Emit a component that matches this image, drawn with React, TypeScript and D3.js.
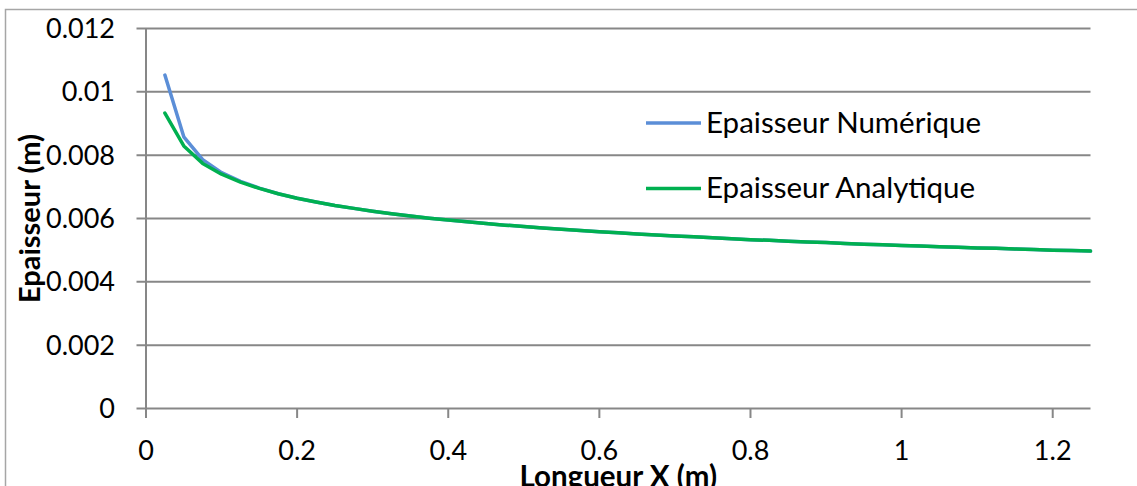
import React, { useEffect, useRef } from 'react';
import * as d3 from 'd3';

const xValues = [
  0.025, 0.05, 0.075, 0.1, 0.125, 0.15, 0.175, 0.2, 0.225, 0.25,
  0.275, 0.3, 0.325, 0.35, 0.375, 0.4, 0.425, 0.45, 0.475, 0.5,
  0.525, 0.55, 0.575, 0.6, 0.625, 0.65, 0.675, 0.7, 0.725, 0.75,
  0.775, 0.8, 0.825, 0.85, 0.875, 0.9, 0.925, 0.95, 0.975, 1.0,
  1.025, 1.05, 1.075, 1.1, 1.125, 1.15, 1.175, 1.2, 1.225, 1.25,
];

const numerique = [
  0.01053, 0.00858, 0.00786, 0.00745, 0.00717, 0.00696, 0.00678, 0.00664, 0.00652, 0.00641,
  0.00632, 0.00623, 0.00615, 0.00608, 0.00601, 0.00595, 0.0059, 0.00584, 0.00579, 0.00575,
  0.0057, 0.00566, 0.00562, 0.00558, 0.00555, 0.00551, 0.00548, 0.00545, 0.00542, 0.00539,
  0.00536, 0.00533, 0.00531, 0.00528, 0.00526, 0.00524, 0.00521, 0.00519, 0.00517, 0.00515,
  0.00513, 0.00511, 0.00509, 0.00507, 0.00506, 0.00504, 0.00502, 0.005, 0.00499, 0.00497,
];

const analytique = [
  0.00933, 0.00829, 0.00774, 0.0074, 0.00715, 0.00695, 0.00678, 0.00664, 0.00652, 0.00641,
  0.00632, 0.00623, 0.00615, 0.00608, 0.00601, 0.00595, 0.0059, 0.00584, 0.00579, 0.00575,
  0.0057, 0.00566, 0.00562, 0.00558, 0.00555, 0.00551, 0.00548, 0.00545, 0.00542, 0.00539,
  0.00536, 0.00533, 0.00531, 0.00528, 0.00526, 0.00524, 0.00521, 0.00519, 0.00517, 0.00515,
  0.00513, 0.00511, 0.00509, 0.00507, 0.00506, 0.00504, 0.00502, 0.005, 0.00499, 0.00497,
];

const xTicks = [0, 0.2, 0.4, 0.6, 0.8, 1, 1.2];
const yTicks = [0, 0.002, 0.004, 0.006, 0.008, 0.01, 0.012];

const seriesNames = ['Epaisseur Numérique', 'Epaisseur Analytique'];
const seriesColors = ['#5B8ED7', '#00B050'];

const width = 1137;
const height = 486;
const plot = { left: 146, right: 1090.5, top: 28.5, bottom: 408.5 };
const font = 'Lato, "Open Sans", sans-serif';
const gridColor = '#878787';

const App = () => {
  const ref = useRef<SVGSVGElement>(null);

  useEffect(() => {
    document.body.style.margin = '0';
    const svg = d3.select(ref.current);
    svg.selectAll('*').remove();

    const x = d3.scaleLinear().domain([0, 1.25]).range([plot.left, plot.right]);
    const y = d3.scaleLinear().domain([0, 0.012]).range([plot.bottom, plot.top]);

    // outer chart border (runs off the right/bottom edge)
    svg
      .append('rect')
      .attr('x', 5.5)
      .attr('y', 9.5)
      .attr('width', 1300)
      .attr('height', 700)
      .attr('fill', 'white')
      .attr('stroke', '#a6a6a6')
      .attr('stroke-width', 1.5);

    // horizontal gridlines + y ticks
    svg
      .append('g')
      .selectAll('line')
      .data(yTicks)
      .enter()
      .append('line')
      .attr('x1', plot.left - 9.5)
      .attr('x2', plot.right)
      .attr('y1', (d) => y(d))
      .attr('y2', (d) => y(d))
      .attr('stroke', gridColor)
      .attr('stroke-width', 2);

    // y axis line
    svg
      .append('line')
      .attr('x1', plot.left)
      .attr('x2', plot.left)
      .attr('y1', plot.top)
      .attr('y2', plot.bottom)
      .attr('stroke', gridColor)
      .attr('stroke-width', 2);

    // x ticks
    svg
      .append('g')
      .selectAll('line')
      .data(xTicks)
      .enter()
      .append('line')
      .attr('x1', (d) => x(d))
      .attr('x2', (d) => x(d))
      .attr('y1', plot.bottom)
      .attr('y2', plot.bottom + 9.5)
      .attr('stroke', gridColor)
      .attr('stroke-width', 2);

    const fmt = (d: number) => String(+d.toFixed(3));

    svg
      .append('g')
      .selectAll('text')
      .data(yTicks)
      .enter()
      .append('text')
      .attr('x', 115)
      .attr('y', (d) => y(d) + 9.5)
      .attr('text-anchor', 'end')
      .style('font-family', font)
      .style('font-size', '27px')
      .text(fmt);

    svg
      .append('g')
      .selectAll('text')
      .data(xTicks)
      .enter()
      .append('text')
      .attr('x', (d) => x(d))
      .attr('y', 460)
      .attr('text-anchor', 'middle')
      .style('font-family', font)
      .style('font-size', '27px')
      .text(fmt);

    // series
    const line = d3
      .line<number>()
      .x((_, i) => x(xValues[i]))
      .y((d) => y(d));

    [numerique, analytique].forEach((vals, i) => {
      svg
        .append('path')
        .attr('d', line(vals))
        .attr('fill', 'none')
        .attr('stroke', seriesColors[i])
        .attr('stroke-width', 3.5)
        .attr('stroke-linejoin', 'round')
        .attr('stroke-linecap', 'round');
    });

    // legend
    const legend = svg.append('g');
    seriesNames.forEach((name, i) => {
      const ly = 123 + i * 65.5;
      legend
        .append('line')
        .attr('x1', 646)
        .attr('x2', 701)
        .attr('y1', ly)
        .attr('y2', ly)
        .attr('stroke', seriesColors[i])
        .attr('stroke-width', 3.5);
      legend
        .append('text')
        .attr('x', 706)
        .attr('y', ly + 9.5)
        .style('font-family', font)
        .style('font-size', '29.5px')
        .text(name);
    });

    // axis titles
    svg
      .append('text')
      .attr('x', (plot.left + plot.right) / 2)
      .attr('y', 487)
      .attr('text-anchor', 'middle')
      .style('font-family', font)
      .style('font-size', '29.5px')
      .style('font-weight', 'bold')
      .text('Longueur X (m)');

    svg
      .append('text')
      .attr('transform', `translate(40, ${(plot.top + plot.bottom) / 2}) rotate(-90)`)
      .attr('text-anchor', 'middle')
      .style('font-family', font)
      .style('font-size', '29px')
      .style('font-weight', 'bold')
      .text('Epaisseur (m)');
  }, []);

  return (
    <svg
      ref={ref}
      width={width}
      height={height}
      style={{ position: 'absolute', left: 0, top: 0, display: 'block' }}
    />
  );
};

export default App;
